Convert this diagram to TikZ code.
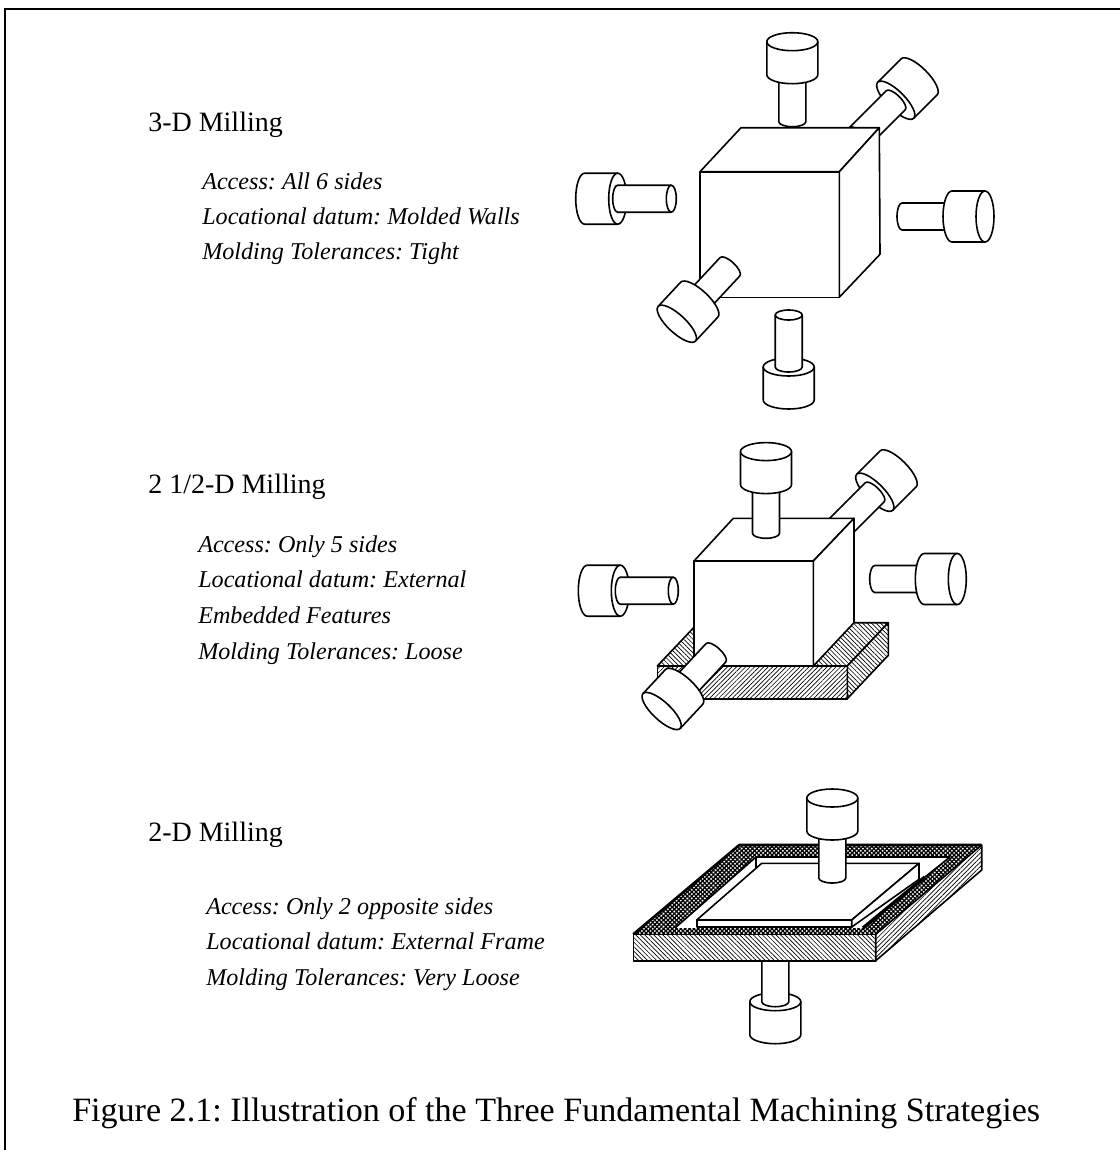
\documentclass[tikz,border=0pt]{standalone}
\usepackage{fontspec}
\setmainfont{Liberation Serif}
\usetikzlibrary{patterns, patterns.meta}

% tool with its outer face in view: tip at (#1,#2), axis angle #3, shank length #4
\newcommand{\toolout}[4]{
  \begin{scope}[shift={(#1,#2)}, rotate=#3, x=0.75pt, y=0.75pt]
    \draw[part] (#4,13.5) -- (0,13.5) arc[start angle=90, end angle=270, x radius=5, y radius=13.5] -- (#4,-13.5);
    \draw[part] (#4,25.5) arc[start angle=90, end angle=270, x radius=9, y radius=25.5]
      -- (#4+33,-25.5) -- (#4+33,25.5) -- cycle;
    \draw[part] (#4+33,0) ellipse [x radius=9, y radius=25.5];
  \end{scope}
}
% tool with its tip and inner face in view
\newcommand{\toolin}[4]{
  \begin{scope}[shift={(#1,#2)}, rotate=#3, x=0.75pt, y=0.75pt]
    \draw[part] (#4,25.5) -- (#4+33,25.5) arc[start angle=90, end angle=-90, x radius=9, y radius=25.5]
      -- (#4,-25.5) -- cycle;
    \draw[part] (#4,0) ellipse [x radius=9, y radius=25.5];
    \draw[part] (0,13.5) -- (#4,13.5) arc[start angle=90, end angle=-90, x radius=5, y radius=13.5]
      -- (0,-13.5) -- cycle;
    \draw[part] (0,0) ellipse [x radius=5, y radius=13.5];
  \end{scope}
}

\begin{document}
\frenchspacing
\begin{tikzpicture}[
    x=0.75pt, y=-0.75pt,
    part/.style={draw=black, fill=white, line width=1.2pt, line join=round},
    heading/.style={anchor=base west, inner sep=0pt, font=\fontsize{21}{25}\selectfont},
    note/.style={anchor=base west, inner sep=0pt, font=\fontsize{18.1}{22}\selectfont\itshape},
    hatchup/.style={part, postaction={pattern={Lines[angle=45, distance=2.4pt, line width=0.5pt]}}},
    hatchdown/.style={part, postaction={pattern={Lines[angle=-45, distance=2.4pt, line width=0.5pt]}}},
    mesh/.style={fill=white, even odd rule,
      postaction={pattern={Lines[angle=45, distance=2.3pt, line width=1pt]}},
      postaction={pattern={Lines[angle=-45, distance=2.3pt, line width=1pt]}}}
  ]
  \useasboundingbox (0,0) rectangle (1120,1150);
  \draw[line width=2pt] (1120,9) -- (5,9) -- (5,1150);

  % 3-D milling
  \node[heading] (title3) at (148,131) {3-D Milling};
  \node[note] (access3) at (202,189) {Access: All 6 sides};
  \node[note] (datum3)  at (202,224) {Locational datum: Molded Walls};
  \node[note] (toler3)  at (202,259) {Molding Tolerances: Tight};

  \toolin{859}{137}{45}{52}
  \toolout{792.3}{121.7}{90}{47}
  \draw[part] (700,171.7) rectangle (839.3,297.3);
  \draw[part] (700,171.7) -- (741,127.7) -- (879.3,127.7) -- (839.3,171.7) -- cycle;
  \draw[part] (839.3,171.7) -- (879.3,127.7) -- (880,254.3) -- (839.3,297.3) -- cycle;
  \toolin{671.3}{198.7}{180}{53.6}
  \toolout{902}{216.5}{0}{50}
  \toolout{730}{266.7}{227}{45}
  \toolin{788.7}{315}{270}{52}

  % 2 1/2-D milling
  \node[heading] (title2) at (148,493) {2 1/2-D Milling};
  \node[note] (access2) at (198,552) {Access: Only 5 sides};
  \node[note] (datum2)  at (198,587) {Locational datum: External};
  \node[note] (embed2)  at (198,623) {Embedded Features};
  \node[note] (toler2)  at (198,659) {Molding Tolerances: Loose};

  \draw[hatchdown] (657.3,666) -- (698.3,622.7) -- (888.3,622.7) -- (847.3,666) -- cycle;
  \draw[hatchup] (657.3,666) rectangle (847.3,698.7);
  \draw[hatchdown] (847.3,666) -- (888.3,622.7) -- (888.3,655.3) -- (847.3,698.7) -- cycle;
  \toolin{838}{529}{45}{52}
  \draw[part] (694,561) rectangle (813.3,666);
  \draw[part] (694,561) -- (733.3,518.3) -- (854,518.3) -- (813.3,561) -- cycle;
  \draw[part] (813.3,561) -- (854,518.3) -- (854,622.7) -- (813.3,666) -- cycle;
  \toolout{766}{533.3}{90}{48.7}
  \toolin{673.3}{590.7}{180}{53}
  \toolout{874.7}{579}{0}{49.6}
  \toolout{716}{652.7}{227}{46.7}

  % 2-D milling
  \node[heading] (title1) at (148,841) {2-D Milling};
  \node[note] (access1) at (206,914) {Access: Only 2 opposite sides};
  \node[note] (datum1)  at (206,949) {Locational datum: External Frame};
  \node[note] (toler1)  at (206,985) {Molding Tolerances: Very Loose};

  \toolin{775.3}{948.7}{270}{53}
  % frame around the plate
  \path[mesh] (633.3,934.3) -- (739.3,845) -- (981.7,845) -- (875.7,934.3) -- cycle
    (675,928) -- (756,857) -- (950,857) -- (863,928) -- cycle;
  \draw[line width=2pt, line join=round] (633.3,934.3) -- (739.3,845) -- (981.7,845);
  \draw[line width=1.2pt, line join=round] (675,928) -- (756,857) -- (950,857);
  \draw[line width=2.6pt] (863,928) -- (925,877);
  \draw[line width=1.2pt] (925,877) -- (950,857);
  \draw[hatchdown] (633.3,934.3) rectangle (875.7,960.7);
  \draw[hatchup] (875.7,934.3) -- (981.7,845) -- (981.7,870) -- (875.7,960.7) -- cycle;
  % plate
  \draw[line width=1.2pt] (756,857) -- (756,868.3);
  \draw[part] (696.7,920) -- (761.7,863.3) -- (919,863.3) -- (851.7,920) -- cycle;
  \draw[part] (696.7,920) rectangle (851.7,927);
  \draw[part] (851.7,920) -- (919,863.3) -- (919,879.3) -- (851.7,927) -- cycle;
  \toolout{832.3}{878}{90}{47}

  \node[anchor=base west, inner sep=0pt, font=\fontsize{25.55}{30}\selectfont] (caption) at (72,1121)
    {Figure 2.1: Illustration of the Three Fundamental Machining Strategies};
\end{tikzpicture}
\end{document}
